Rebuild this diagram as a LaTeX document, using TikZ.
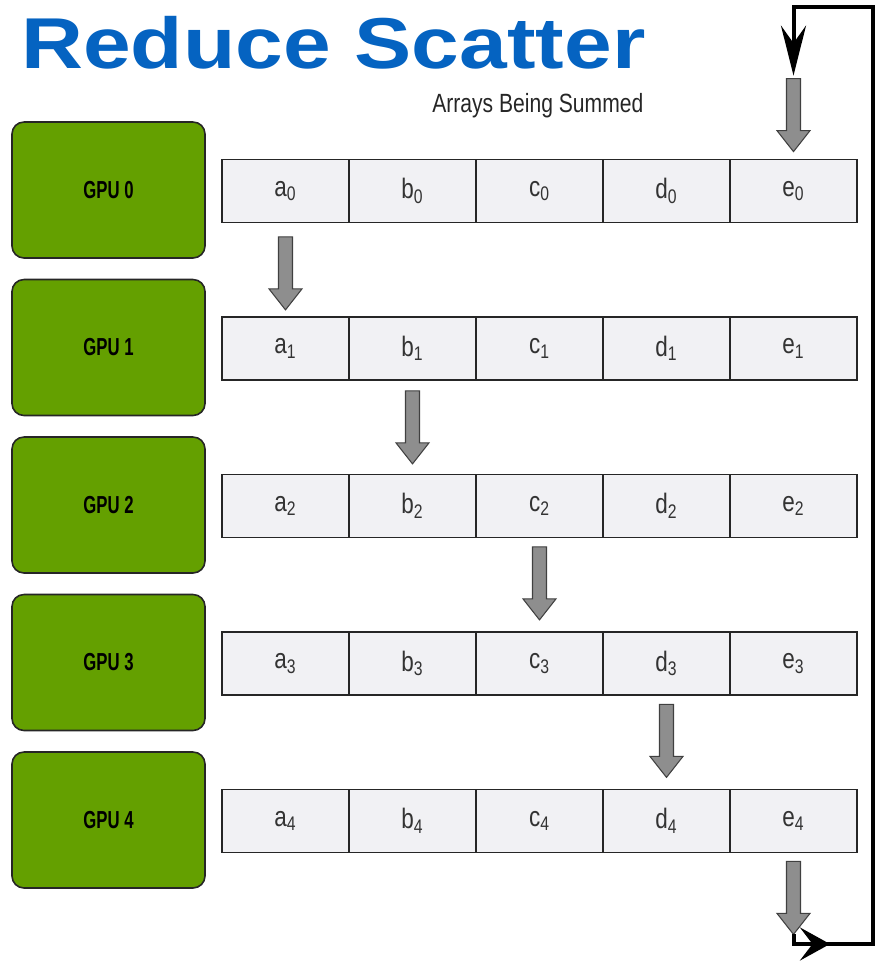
\documentclass[tikz,border=0pt]{standalone}
\usepackage{fontspec}
\setmainfont{Liberation Sans}
\newfontfamily\titlefont[FakeStretch=1.19]{Liberation Sans}
\newfontfamily\narrowfont[FakeStretch=0.8]{Liberation Sans}
\newfontfamily\gpufont[FakeStretch=0.68]{Liberation Sans}
\usetikzlibrary{arrows.meta}
\usetikzlibrary{calc}

\definecolor{titleblue}{RGB}{5,99,193}
\definecolor{gpugreen}{RGB}{100,160,0}
\definecolor{cellfill}{RGB}{241,241,244}
\definecolor{sumgray}{RGB}{142,142,142}

% fat grey arrow, #1 is the top centre of its shaft
\newcommand{\sumarrow}[1]{%
  \draw[sumarrow, shift={(#1)}] (-0.14,0) -- (0.14,0) -- (0.14,-1.04) -- (0.33,-1.04)
    -- (0,-1.46) -- (-0.33,-1.04) -- (-0.14,-1.04) -- cycle;}

\begin{document}
\begin{tikzpicture}[gpu/.style={draw=black!85, line width=0.9pt, fill=gpugreen, rounded corners=0.24cm, minimum width=3.86cm, minimum height=2.72cm, font=\gpufont\bfseries\fontsize{14}{16}\selectfont},
    cell/.style={draw=black!85, line width=1pt, fill=cellfill, minimum width=2.54cm, minimum height=1.26cm, inner sep=0pt, font=\narrowfont\fontsize{16}{18}\selectfont, text=black!80},
    sumarrow/.style={draw=black!75, line width=0.6pt, fill=sumgray, line join=miter},
    loopline/.style={line width=0.08cm, line join=miter}]
            \useasboundingbox (0,0) rectangle (17.52,-19.24);

            \node[anchor=base west, inner sep=0pt, text=titleblue, font=\titlefont\bfseries\fontsize{41}{44}\selectfont] (title) at (0.42,-1.36) {Reduce Scatter};
            \node[anchor=base west, inner sep=0pt, text=black!85, font=\narrowfont\fontsize{15}{17}\selectfont] (summed) at (8.64,-2.24) {Arrays Being Summed};

            %one GPU and its array per row
            \foreach \i in {0,...,4} {
                \node[gpu] (gpu\i) at (2.17,-3.8-3.15*\i) {GPU \i};
                \foreach \c [count=\j from 0] in {a,b,c,d,e}
                    \node[cell] (\c\i) at (5.71+2.54*\j,-3.82-3.15*\i) {\c\textsubscript{\i}};
            }

            %partial sums passed down the diagonal
            \sumarrow{$(a0.south)+(0,-0.27)$}
            \sumarrow{$(b1.south)+(0,-0.2)$}
            \sumarrow{$(c2.south)+(0,-0.17)$}
            \sumarrow{$(d3.south)+(0,-0.17)$}
            \sumarrow{$(e4.south)+(0,-0.16)$}
            \sumarrow{$(e0.north)+(0,1.6)$}

            \coordinate (outtip) at ($(e4.south)+(0,-1.62)$);
            \coordinate (intip) at ($(e0.north)+(0,1.66)$);
            \coordinate (turn) at (16.6,-18.88);

            %wrap around from the last GPU to the first
            \draw[loopline, -{Stealth[length=0.6cm, width=0.66cm, inset=0.25cm]}] (outtip) |- (turn);
            \draw[loopline, -{Stealth[length=1cm, width=0.5cm, inset=0.35cm]}] ($(turn)+(-0.3,0)$) -- (17.46,-18.88) -- (17.46,-0.14) -| (intip);
        \end{tikzpicture}
\end{document}
